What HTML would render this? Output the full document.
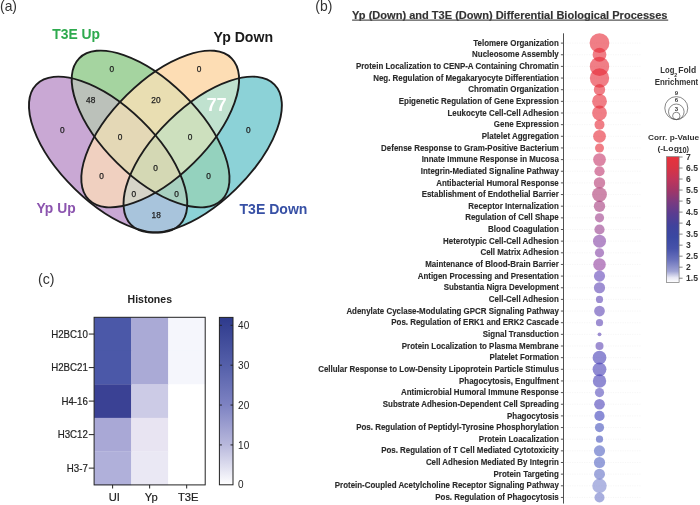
<!DOCTYPE html>
<html><head><meta charset="utf-8"><style>html,body{margin:0;padding:0;background:#fff;width:700px;height:505px;overflow:hidden}svg{display:block;will-change:transform}</style></head>
<body><svg width="700" height="505" viewBox="0 0 700 505"><defs><clipPath id="cP"><ellipse cx="108.10" cy="154.60" rx="100.30" ry="47.80" transform="rotate(44.3 108.10 154.60)" /></clipPath><clipPath id="cG"><ellipse cx="150.60" cy="129.00" rx="100.50" ry="47.70" transform="rotate(44.7 150.60 129.00)" /></clipPath><clipPath id="cO"><ellipse cx="160.20" cy="129.00" rx="100.50" ry="47.70" transform="rotate(-44.7 160.20 129.00)" /></clipPath><clipPath id="cT"><ellipse cx="202.70" cy="154.60" rx="100.30" ry="47.80" transform="rotate(-44.3 202.70 154.60)" /></clipPath></defs><ellipse cx="108.10" cy="154.60" rx="100.30" ry="47.80" transform="rotate(44.3 108.10 154.60)" fill="#c9a8d4"/><ellipse cx="150.60" cy="129.00" rx="100.50" ry="47.70" transform="rotate(44.7 150.60 129.00)" fill="#a5d4a0"/><ellipse cx="160.20" cy="129.00" rx="100.50" ry="47.70" transform="rotate(-44.7 160.20 129.00)" fill="#fdddb4"/><ellipse cx="202.70" cy="154.60" rx="100.30" ry="47.80" transform="rotate(-44.3 202.70 154.60)" fill="#8cd2d7"/><g clip-path="url(#cP)"><ellipse cx="150.60" cy="129.00" rx="100.50" ry="47.70" transform="rotate(44.7 150.60 129.00)" fill="#bbc1ba"/></g><g clip-path="url(#cP)"><ellipse cx="160.20" cy="129.00" rx="100.50" ry="47.70" transform="rotate(-44.7 160.20 129.00)" fill="#f0d0c0"/></g><g clip-path="url(#cP)"><ellipse cx="202.70" cy="154.60" rx="100.30" ry="47.80" transform="rotate(-44.3 202.70 154.60)" fill="#a8c4dc"/></g><g clip-path="url(#cG)"><ellipse cx="160.20" cy="129.00" rx="100.50" ry="47.70" transform="rotate(-44.7 160.20 129.00)" fill="#e9deb2"/></g><g clip-path="url(#cG)"><ellipse cx="202.70" cy="154.60" rx="100.30" ry="47.80" transform="rotate(-44.3 202.70 154.60)" fill="#94d2be"/></g><g clip-path="url(#cO)"><ellipse cx="202.70" cy="154.60" rx="100.30" ry="47.80" transform="rotate(-44.3 202.70 154.60)" fill="#c0e2cf"/></g><g clip-path="url(#cG)"><g clip-path="url(#cP)"><ellipse cx="160.20" cy="129.00" rx="100.50" ry="47.70" transform="rotate(-44.7 160.20 129.00)" fill="#e4d8b6"/></g></g><g clip-path="url(#cG)"><g clip-path="url(#cP)"><ellipse cx="202.70" cy="154.60" rx="100.30" ry="47.80" transform="rotate(-44.3 202.70 154.60)" fill="#a8d0c0"/></g></g><g clip-path="url(#cO)"><g clip-path="url(#cP)"><ellipse cx="202.70" cy="154.60" rx="100.30" ry="47.80" transform="rotate(-44.3 202.70 154.60)" fill="#d6d4c8"/></g></g><g clip-path="url(#cO)"><g clip-path="url(#cG)"><ellipse cx="202.70" cy="154.60" rx="100.30" ry="47.80" transform="rotate(-44.3 202.70 154.60)" fill="#cde0be"/></g></g><g clip-path="url(#cO)"><g clip-path="url(#cG)"><g clip-path="url(#cP)"><ellipse cx="202.70" cy="154.60" rx="100.30" ry="47.80" transform="rotate(-44.3 202.70 154.60)" fill="#d4d8b4"/></g></g></g><ellipse cx="108.10" cy="154.60" rx="100.30" ry="47.80" transform="rotate(44.3 108.10 154.60)" fill="none" stroke="#1c1c1c" stroke-width="1.9"/><ellipse cx="150.60" cy="129.00" rx="100.50" ry="47.70" transform="rotate(44.7 150.60 129.00)" fill="none" stroke="#1c1c1c" stroke-width="1.9"/><ellipse cx="160.20" cy="129.00" rx="100.50" ry="47.70" transform="rotate(-44.7 160.20 129.00)" fill="none" stroke="#1c1c1c" stroke-width="1.9"/><ellipse cx="202.70" cy="154.60" rx="100.30" ry="47.80" transform="rotate(-44.3 202.70 154.60)" fill="none" stroke="#1c1c1c" stroke-width="1.9"/><text x="111.90" y="72.10" font-family='"Liberation Sans", sans-serif' font-size="8.3" font-weight="normal" fill="#1e1e1e" text-anchor="middle" stroke="#1e1e1e" stroke-width="0.25">0</text><text x="199.00" y="72.30" font-family='"Liberation Sans", sans-serif' font-size="8.3" font-weight="normal" fill="#1e1e1e" text-anchor="middle" stroke="#1e1e1e" stroke-width="0.25">0</text><text x="62.40" y="133.20" font-family='"Liberation Sans", sans-serif' font-size="8.3" font-weight="normal" fill="#1e1e1e" text-anchor="middle" stroke="#1e1e1e" stroke-width="0.25">0</text><text x="248.40" y="132.90" font-family='"Liberation Sans", sans-serif' font-size="8.3" font-weight="normal" fill="#1e1e1e" text-anchor="middle" stroke="#1e1e1e" stroke-width="0.25">0</text><text x="90.70" y="103.00" font-family='"Liberation Sans", sans-serif' font-size="8.3" font-weight="normal" fill="#1e1e1e" text-anchor="middle" stroke="#1e1e1e" stroke-width="0.25">48</text><text x="155.90" y="103.00" font-family='"Liberation Sans", sans-serif' font-size="8.3" font-weight="normal" fill="#1e1e1e" text-anchor="middle" stroke="#1e1e1e" stroke-width="0.25">20</text><text x="120.00" y="139.70" font-family='"Liberation Sans", sans-serif' font-size="8.3" font-weight="normal" fill="#1e1e1e" text-anchor="middle" stroke="#1e1e1e" stroke-width="0.25">0</text><text x="190.00" y="139.70" font-family='"Liberation Sans", sans-serif' font-size="8.3" font-weight="normal" fill="#1e1e1e" text-anchor="middle" stroke="#1e1e1e" stroke-width="0.25">0</text><text x="101.50" y="179.00" font-family='"Liberation Sans", sans-serif' font-size="8.3" font-weight="normal" fill="#1e1e1e" text-anchor="middle" stroke="#1e1e1e" stroke-width="0.25">0</text><text x="208.60" y="179.30" font-family='"Liberation Sans", sans-serif' font-size="8.3" font-weight="normal" fill="#1e1e1e" text-anchor="middle" stroke="#1e1e1e" stroke-width="0.25">0</text><text x="155.60" y="170.80" font-family='"Liberation Sans", sans-serif' font-size="8.3" font-weight="normal" fill="#1e1e1e" text-anchor="middle" stroke="#1e1e1e" stroke-width="0.25">0</text><text x="133.90" y="197.40" font-family='"Liberation Sans", sans-serif' font-size="8.3" font-weight="normal" fill="#1e1e1e" text-anchor="middle" stroke="#1e1e1e" stroke-width="0.25">0</text><text x="176.50" y="197.40" font-family='"Liberation Sans", sans-serif' font-size="8.3" font-weight="normal" fill="#1e1e1e" text-anchor="middle" stroke="#1e1e1e" stroke-width="0.25">0</text><text x="156.20" y="217.70" font-family='"Liberation Sans", sans-serif' font-size="8.3" font-weight="normal" fill="#1e1e1e" text-anchor="middle" stroke="#1e1e1e" stroke-width="0.25">18</text><text x="216.60" y="111.20" font-family='"Liberation Sans", sans-serif' font-size="18.3" font-weight="bold" fill="#ffffff" text-anchor="middle" >77</text><text x="52.30" y="39.00" font-family='"Liberation Sans", sans-serif' font-size="14.3" font-weight="bold" fill="#2eaa4e" text-anchor="start" textLength="47.80" lengthAdjust="spacingAndGlyphs" >T3E Up</text><text x="213.50" y="41.60" font-family='"Liberation Sans", sans-serif' font-size="14.3" font-weight="bold" fill="#1a1a1a" text-anchor="start" textLength="59.60" lengthAdjust="spacingAndGlyphs" >Yp Down</text><text x="36.40" y="213.00" font-family='"Liberation Sans", sans-serif' font-size="14.3" font-weight="bold" fill="#8c55af" text-anchor="start" textLength="39.20" lengthAdjust="spacingAndGlyphs" >Yp Up</text><text x="239.50" y="213.50" font-family='"Liberation Sans", sans-serif' font-size="14.3" font-weight="bold" fill="#3750a5" text-anchor="start" textLength="67.90" lengthAdjust="spacingAndGlyphs" >T3E Down</text><text x="0.00" y="10.70" font-family='"Liberation Sans", sans-serif' font-size="14.5" font-weight="normal" fill="#333" text-anchor="start" textLength="17.00" lengthAdjust="spacingAndGlyphs" >(a)</text><text x="315.30" y="10.60" font-family='"Liberation Sans", sans-serif' font-size="14.5" font-weight="normal" fill="#333" text-anchor="start" textLength="17.00" lengthAdjust="spacingAndGlyphs" >(b)</text><text x="38.00" y="284.00" font-family='"Liberation Sans", sans-serif' font-size="14.0" font-weight="normal" fill="#333" text-anchor="start" textLength="16.50" lengthAdjust="spacingAndGlyphs" >(c)</text><rect x="94.10" y="317.30" width="37.33" height="33.82" fill="#4b58a8"/><rect x="131.13" y="317.30" width="37.33" height="33.82" fill="#aaaad6"/><rect x="168.17" y="317.30" width="37.33" height="33.82" fill="#f5f6fc"/><rect x="94.10" y="350.82" width="37.33" height="33.82" fill="#4b58a8"/><rect x="131.13" y="350.82" width="37.33" height="33.82" fill="#aaaad6"/><rect x="168.17" y="350.82" width="37.33" height="33.82" fill="#f5f6fc"/><rect x="94.10" y="384.34" width="37.33" height="33.82" fill="#3a4194"/><rect x="131.13" y="384.34" width="37.33" height="33.82" fill="#cccbe6"/><rect x="168.17" y="384.34" width="37.33" height="33.82" fill="#ffffff"/><rect x="94.10" y="417.86" width="37.33" height="33.82" fill="#a9a8d6"/><rect x="131.13" y="417.86" width="37.33" height="33.82" fill="#e8e4f2"/><rect x="168.17" y="417.86" width="37.33" height="33.82" fill="#ffffff"/><rect x="94.10" y="451.38" width="37.33" height="33.82" fill="#b0b0da"/><rect x="131.13" y="451.38" width="37.33" height="33.82" fill="#eae8f4"/><rect x="168.17" y="451.38" width="37.33" height="33.82" fill="#ffffff"/><rect x="94.10" y="317.30" width="111.10" height="167.60" fill="none" stroke="#222" stroke-width="1"/><line x1="88.80" y1="334.06" x2="94.10" y2="334.06" stroke="#222" stroke-width="1"/><text x="87.90" y="337.81" font-family='"Liberation Sans", sans-serif' font-size="10.7" font-weight="normal" fill="#222" text-anchor="end" textLength="36.68" lengthAdjust="spacingAndGlyphs" stroke="#222" stroke-width="0.2">H2BC10</text><line x1="88.80" y1="367.58" x2="94.10" y2="367.58" stroke="#222" stroke-width="1"/><text x="87.90" y="371.33" font-family='"Liberation Sans", sans-serif' font-size="10.7" font-weight="normal" fill="#222" text-anchor="end" textLength="36.68" lengthAdjust="spacingAndGlyphs" stroke="#222" stroke-width="0.2">H2BC21</text><line x1="88.80" y1="401.10" x2="94.10" y2="401.10" stroke="#222" stroke-width="1"/><text x="87.90" y="404.85" font-family='"Liberation Sans", sans-serif' font-size="10.7" font-weight="normal" fill="#222" text-anchor="end" textLength="26.43" lengthAdjust="spacingAndGlyphs" stroke="#222" stroke-width="0.2">H4-16</text><line x1="88.80" y1="434.62" x2="94.10" y2="434.62" stroke="#222" stroke-width="1"/><text x="87.90" y="438.37" font-family='"Liberation Sans", sans-serif' font-size="10.7" font-weight="normal" fill="#222" text-anchor="end" textLength="30.21" lengthAdjust="spacingAndGlyphs" stroke="#222" stroke-width="0.2">H3C12</text><line x1="88.80" y1="468.14" x2="94.10" y2="468.14" stroke="#222" stroke-width="1"/><text x="87.90" y="471.89" font-family='"Liberation Sans", sans-serif' font-size="10.7" font-weight="normal" fill="#222" text-anchor="end" textLength="21.04" lengthAdjust="spacingAndGlyphs" stroke="#222" stroke-width="0.2">H3-7</text><line x1="112.62" y1="484.90" x2="112.62" y2="488.50" stroke="#222" stroke-width="1"/><text x="114.22" y="500.90" font-family='"Liberation Sans", sans-serif' font-size="11.2" font-weight="normal" fill="#222" text-anchor="middle" stroke="#222" stroke-width="0.2">UI</text><line x1="149.65" y1="484.90" x2="149.65" y2="488.50" stroke="#222" stroke-width="1"/><text x="151.25" y="500.90" font-family='"Liberation Sans", sans-serif' font-size="11.2" font-weight="normal" fill="#222" text-anchor="middle" stroke="#222" stroke-width="0.2">Yp</text><line x1="186.68" y1="484.90" x2="186.68" y2="488.50" stroke="#222" stroke-width="1"/><text x="188.28" y="500.90" font-family='"Liberation Sans", sans-serif' font-size="11.2" font-weight="normal" fill="#222" text-anchor="middle" stroke="#222" stroke-width="0.2">T3E</text><text x="149.80" y="302.90" font-family='"Liberation Sans", sans-serif' font-size="10.6" font-weight="bold" fill="#222" text-anchor="middle" textLength="44.40" lengthAdjust="spacingAndGlyphs" >Histones</text><defs><linearGradient id="hg" x1="0" y1="1" x2="0" y2="0"><stop offset="0" stop-color="#ffffff"/><stop offset="0.24" stop-color="#b8b8dc"/><stop offset="0.48" stop-color="#7d82c2"/><stop offset="0.71" stop-color="#5560aa"/><stop offset="1" stop-color="#2e3a8c"/></linearGradient></defs><rect x="219.4" y="317.4" width="13.60" height="167.40" fill="url(#hg)" stroke="#222" stroke-width="1"/><text x="238.10" y="488.40" font-family='"Liberation Sans", sans-serif' font-size="10.0" font-weight="normal" fill="#222" text-anchor="start" >0</text><line x1="219.4" y1="444.93" x2="221.9" y2="444.93" stroke="#222" stroke-width="1"/><line x1="230.5" y1="444.93" x2="233.0" y2="444.93" stroke="#222" stroke-width="1"/><text x="238.10" y="448.53" font-family='"Liberation Sans", sans-serif' font-size="10.0" font-weight="normal" fill="#222" text-anchor="start" >10</text><line x1="219.4" y1="405.05" x2="221.9" y2="405.05" stroke="#222" stroke-width="1"/><line x1="230.5" y1="405.05" x2="233.0" y2="405.05" stroke="#222" stroke-width="1"/><text x="238.10" y="408.65" font-family='"Liberation Sans", sans-serif' font-size="10.0" font-weight="normal" fill="#222" text-anchor="start" >20</text><line x1="219.4" y1="365.18" x2="221.9" y2="365.18" stroke="#222" stroke-width="1"/><line x1="230.5" y1="365.18" x2="233.0" y2="365.18" stroke="#222" stroke-width="1"/><text x="238.10" y="368.78" font-family='"Liberation Sans", sans-serif' font-size="10.0" font-weight="normal" fill="#222" text-anchor="start" >30</text><line x1="219.4" y1="325.30" x2="221.9" y2="325.30" stroke="#222" stroke-width="1"/><line x1="230.5" y1="325.30" x2="233.0" y2="325.30" stroke="#222" stroke-width="1"/><text x="238.10" y="328.90" font-family='"Liberation Sans", sans-serif' font-size="10.0" font-weight="normal" fill="#222" text-anchor="start" >40</text><line x1="564.90" y1="43.10" x2="640.7" y2="43.10" stroke="#f0f0f0" stroke-width="0.6" stroke-dasharray="1.2 1.2"/><line x1="564.90" y1="54.75" x2="640.7" y2="54.75" stroke="#f0f0f0" stroke-width="0.6" stroke-dasharray="1.2 1.2"/><line x1="564.90" y1="66.40" x2="640.7" y2="66.40" stroke="#f0f0f0" stroke-width="0.6" stroke-dasharray="1.2 1.2"/><line x1="564.90" y1="78.05" x2="640.7" y2="78.05" stroke="#f0f0f0" stroke-width="0.6" stroke-dasharray="1.2 1.2"/><line x1="564.90" y1="89.70" x2="640.7" y2="89.70" stroke="#f0f0f0" stroke-width="0.6" stroke-dasharray="1.2 1.2"/><line x1="564.90" y1="101.35" x2="640.7" y2="101.35" stroke="#f0f0f0" stroke-width="0.6" stroke-dasharray="1.2 1.2"/><line x1="564.90" y1="113.00" x2="640.7" y2="113.00" stroke="#f0f0f0" stroke-width="0.6" stroke-dasharray="1.2 1.2"/><line x1="564.90" y1="124.65" x2="640.7" y2="124.65" stroke="#f0f0f0" stroke-width="0.6" stroke-dasharray="1.2 1.2"/><line x1="564.90" y1="136.30" x2="640.7" y2="136.30" stroke="#f0f0f0" stroke-width="0.6" stroke-dasharray="1.2 1.2"/><line x1="564.90" y1="147.95" x2="640.7" y2="147.95" stroke="#f0f0f0" stroke-width="0.6" stroke-dasharray="1.2 1.2"/><line x1="564.90" y1="159.60" x2="640.7" y2="159.60" stroke="#f0f0f0" stroke-width="0.6" stroke-dasharray="1.2 1.2"/><line x1="564.90" y1="171.25" x2="640.7" y2="171.25" stroke="#f0f0f0" stroke-width="0.6" stroke-dasharray="1.2 1.2"/><line x1="564.90" y1="182.90" x2="640.7" y2="182.90" stroke="#f0f0f0" stroke-width="0.6" stroke-dasharray="1.2 1.2"/><line x1="564.90" y1="194.55" x2="640.7" y2="194.55" stroke="#f0f0f0" stroke-width="0.6" stroke-dasharray="1.2 1.2"/><line x1="564.90" y1="206.20" x2="640.7" y2="206.20" stroke="#f0f0f0" stroke-width="0.6" stroke-dasharray="1.2 1.2"/><line x1="564.90" y1="217.85" x2="640.7" y2="217.85" stroke="#f0f0f0" stroke-width="0.6" stroke-dasharray="1.2 1.2"/><line x1="564.90" y1="229.50" x2="640.7" y2="229.50" stroke="#f0f0f0" stroke-width="0.6" stroke-dasharray="1.2 1.2"/><line x1="564.90" y1="241.15" x2="640.7" y2="241.15" stroke="#f0f0f0" stroke-width="0.6" stroke-dasharray="1.2 1.2"/><line x1="564.90" y1="252.80" x2="640.7" y2="252.80" stroke="#f0f0f0" stroke-width="0.6" stroke-dasharray="1.2 1.2"/><line x1="564.90" y1="264.45" x2="640.7" y2="264.45" stroke="#f0f0f0" stroke-width="0.6" stroke-dasharray="1.2 1.2"/><line x1="564.90" y1="276.10" x2="640.7" y2="276.10" stroke="#f0f0f0" stroke-width="0.6" stroke-dasharray="1.2 1.2"/><line x1="564.90" y1="287.75" x2="640.7" y2="287.75" stroke="#f0f0f0" stroke-width="0.6" stroke-dasharray="1.2 1.2"/><line x1="564.90" y1="299.40" x2="640.7" y2="299.40" stroke="#f0f0f0" stroke-width="0.6" stroke-dasharray="1.2 1.2"/><line x1="564.90" y1="311.05" x2="640.7" y2="311.05" stroke="#f0f0f0" stroke-width="0.6" stroke-dasharray="1.2 1.2"/><line x1="564.90" y1="322.70" x2="640.7" y2="322.70" stroke="#f0f0f0" stroke-width="0.6" stroke-dasharray="1.2 1.2"/><line x1="564.90" y1="334.35" x2="640.7" y2="334.35" stroke="#f0f0f0" stroke-width="0.6" stroke-dasharray="1.2 1.2"/><line x1="564.90" y1="346.00" x2="640.7" y2="346.00" stroke="#f0f0f0" stroke-width="0.6" stroke-dasharray="1.2 1.2"/><line x1="564.90" y1="357.65" x2="640.7" y2="357.65" stroke="#f0f0f0" stroke-width="0.6" stroke-dasharray="1.2 1.2"/><line x1="564.90" y1="369.30" x2="640.7" y2="369.30" stroke="#f0f0f0" stroke-width="0.6" stroke-dasharray="1.2 1.2"/><line x1="564.90" y1="380.95" x2="640.7" y2="380.95" stroke="#f0f0f0" stroke-width="0.6" stroke-dasharray="1.2 1.2"/><line x1="564.90" y1="392.60" x2="640.7" y2="392.60" stroke="#f0f0f0" stroke-width="0.6" stroke-dasharray="1.2 1.2"/><line x1="564.90" y1="404.25" x2="640.7" y2="404.25" stroke="#f0f0f0" stroke-width="0.6" stroke-dasharray="1.2 1.2"/><line x1="564.90" y1="415.90" x2="640.7" y2="415.90" stroke="#f0f0f0" stroke-width="0.6" stroke-dasharray="1.2 1.2"/><line x1="564.90" y1="427.55" x2="640.7" y2="427.55" stroke="#f0f0f0" stroke-width="0.6" stroke-dasharray="1.2 1.2"/><line x1="564.90" y1="439.20" x2="640.7" y2="439.20" stroke="#f0f0f0" stroke-width="0.6" stroke-dasharray="1.2 1.2"/><line x1="564.90" y1="450.85" x2="640.7" y2="450.85" stroke="#f0f0f0" stroke-width="0.6" stroke-dasharray="1.2 1.2"/><line x1="564.90" y1="462.50" x2="640.7" y2="462.50" stroke="#f0f0f0" stroke-width="0.6" stroke-dasharray="1.2 1.2"/><line x1="564.90" y1="474.15" x2="640.7" y2="474.15" stroke="#f0f0f0" stroke-width="0.6" stroke-dasharray="1.2 1.2"/><line x1="564.90" y1="485.80" x2="640.7" y2="485.80" stroke="#f0f0f0" stroke-width="0.6" stroke-dasharray="1.2 1.2"/><line x1="564.90" y1="497.45" x2="640.7" y2="497.45" stroke="#f0f0f0" stroke-width="0.6" stroke-dasharray="1.2 1.2"/><line x1="563.5" y1="33.3" x2="563.5" y2="503.6" stroke="#505050" stroke-width="1"/><line x1="560.9" y1="43.10" x2="563.90" y2="43.10" stroke="#555" stroke-width="1"/><text x="558.80" y="45.70" font-family='"Liberation Sans", sans-serif' font-size="9.9" font-weight="bold" fill="#2a2a2a" text-anchor="end" textLength="85.54" lengthAdjust="spacingAndGlyphs" stroke="#2a2a2a" stroke-width="0.15">Telomere Organization</text><line x1="560.9" y1="54.75" x2="563.90" y2="54.75" stroke="#555" stroke-width="1"/><text x="558.80" y="57.35" font-family='"Liberation Sans", sans-serif' font-size="9.9" font-weight="bold" fill="#2a2a2a" text-anchor="end" textLength="86.73" lengthAdjust="spacingAndGlyphs" stroke="#2a2a2a" stroke-width="0.15">Nucleosome Assembly</text><line x1="560.9" y1="66.40" x2="563.90" y2="66.40" stroke="#555" stroke-width="1"/><text x="558.80" y="69.00" font-family='"Liberation Sans", sans-serif' font-size="9.9" font-weight="bold" fill="#2a2a2a" text-anchor="end" textLength="202.85" lengthAdjust="spacingAndGlyphs" stroke="#2a2a2a" stroke-width="0.15">Protein Localization to CENP-A Containing Chromatin</text><line x1="560.9" y1="78.05" x2="563.90" y2="78.05" stroke="#555" stroke-width="1"/><text x="558.80" y="80.65" font-family='"Liberation Sans", sans-serif' font-size="9.9" font-weight="bold" fill="#2a2a2a" text-anchor="end" textLength="185.58" lengthAdjust="spacingAndGlyphs" stroke="#2a2a2a" stroke-width="0.15">Neg. Regulation of Megakaryocyte Differentiation</text><line x1="560.9" y1="89.70" x2="563.90" y2="89.70" stroke="#555" stroke-width="1"/><text x="558.80" y="92.30" font-family='"Liberation Sans", sans-serif' font-size="9.9" font-weight="bold" fill="#2a2a2a" text-anchor="end" textLength="90.51" lengthAdjust="spacingAndGlyphs" stroke="#2a2a2a" stroke-width="0.15">Chromatin Organization</text><line x1="560.9" y1="101.35" x2="563.90" y2="101.35" stroke="#555" stroke-width="1"/><text x="558.80" y="103.95" font-family='"Liberation Sans", sans-serif' font-size="9.9" font-weight="bold" fill="#2a2a2a" text-anchor="end" textLength="160.06" lengthAdjust="spacingAndGlyphs" stroke="#2a2a2a" stroke-width="0.15">Epigenetic Regulation of Gene Expression</text><line x1="560.9" y1="113.00" x2="563.90" y2="113.00" stroke="#555" stroke-width="1"/><text x="558.80" y="115.60" font-family='"Liberation Sans", sans-serif' font-size="9.9" font-weight="bold" fill="#2a2a2a" text-anchor="end" textLength="111.35" lengthAdjust="spacingAndGlyphs" stroke="#2a2a2a" stroke-width="0.15">Leukocyte Cell-Cell Adhesion</text><line x1="560.9" y1="124.65" x2="563.90" y2="124.65" stroke="#555" stroke-width="1"/><text x="558.80" y="127.25" font-family='"Liberation Sans", sans-serif' font-size="9.9" font-weight="bold" fill="#2a2a2a" text-anchor="end" textLength="65.01" lengthAdjust="spacingAndGlyphs" stroke="#2a2a2a" stroke-width="0.15">Gene Expression</text><line x1="560.9" y1="136.30" x2="563.90" y2="136.30" stroke="#555" stroke-width="1"/><text x="558.80" y="138.90" font-family='"Liberation Sans", sans-serif' font-size="9.9" font-weight="bold" fill="#2a2a2a" text-anchor="end" textLength="77.03" lengthAdjust="spacingAndGlyphs" stroke="#2a2a2a" stroke-width="0.15">Platelet Aggregation</text><line x1="560.9" y1="147.95" x2="563.90" y2="147.95" stroke="#555" stroke-width="1"/><text x="558.80" y="150.55" font-family='"Liberation Sans", sans-serif' font-size="9.9" font-weight="bold" fill="#2a2a2a" text-anchor="end" textLength="177.68" lengthAdjust="spacingAndGlyphs" stroke="#2a2a2a" stroke-width="0.15">Defense Response to Gram-Positive Bacterium</text><line x1="560.9" y1="159.60" x2="563.90" y2="159.60" stroke="#555" stroke-width="1"/><text x="558.80" y="162.20" font-family='"Liberation Sans", sans-serif' font-size="9.9" font-weight="bold" fill="#2a2a2a" text-anchor="end" textLength="137.17" lengthAdjust="spacingAndGlyphs" stroke="#2a2a2a" stroke-width="0.15">Innate Immune Response in Mucosa</text><line x1="560.9" y1="171.25" x2="563.90" y2="171.25" stroke="#555" stroke-width="1"/><text x="558.80" y="173.85" font-family='"Liberation Sans", sans-serif' font-size="9.9" font-weight="bold" fill="#2a2a2a" text-anchor="end" textLength="138.05" lengthAdjust="spacingAndGlyphs" stroke="#2a2a2a" stroke-width="0.15">Integrin-Mediated Signaline Pathway</text><line x1="560.9" y1="182.90" x2="563.90" y2="182.90" stroke="#555" stroke-width="1"/><text x="558.80" y="185.50" font-family='"Liberation Sans", sans-serif' font-size="9.9" font-weight="bold" fill="#2a2a2a" text-anchor="end" textLength="122.65" lengthAdjust="spacingAndGlyphs" stroke="#2a2a2a" stroke-width="0.15">Antibacterial Humoral Response</text><line x1="560.9" y1="194.55" x2="563.90" y2="194.55" stroke="#555" stroke-width="1"/><text x="558.80" y="197.15" font-family='"Liberation Sans", sans-serif' font-size="9.9" font-weight="bold" fill="#2a2a2a" text-anchor="end" textLength="137.17" lengthAdjust="spacingAndGlyphs" stroke="#2a2a2a" stroke-width="0.15">Establishment of Endothelial Barrier</text><line x1="560.9" y1="206.20" x2="563.90" y2="206.20" stroke="#555" stroke-width="1"/><text x="558.80" y="208.80" font-family='"Liberation Sans", sans-serif' font-size="9.9" font-weight="bold" fill="#2a2a2a" text-anchor="end" textLength="90.51" lengthAdjust="spacingAndGlyphs" stroke="#2a2a2a" stroke-width="0.15">Receptor Internalization</text><line x1="560.9" y1="217.85" x2="563.90" y2="217.85" stroke="#555" stroke-width="1"/><text x="558.80" y="220.45" font-family='"Liberation Sans", sans-serif' font-size="9.9" font-weight="bold" fill="#2a2a2a" text-anchor="end" textLength="93.60" lengthAdjust="spacingAndGlyphs" stroke="#2a2a2a" stroke-width="0.15">Regulation of Cell Shape</text><line x1="560.9" y1="229.50" x2="563.90" y2="229.50" stroke="#555" stroke-width="1"/><text x="558.80" y="232.10" font-family='"Liberation Sans", sans-serif' font-size="9.9" font-weight="bold" fill="#2a2a2a" text-anchor="end" textLength="70.70" lengthAdjust="spacingAndGlyphs" stroke="#2a2a2a" stroke-width="0.15">Blood Coagulation</text><line x1="560.9" y1="241.15" x2="563.90" y2="241.15" stroke="#555" stroke-width="1"/><text x="558.80" y="243.75" font-family='"Liberation Sans", sans-serif' font-size="9.9" font-weight="bold" fill="#2a2a2a" text-anchor="end" textLength="115.76" lengthAdjust="spacingAndGlyphs" stroke="#2a2a2a" stroke-width="0.15">Heterotypic Cell-Cell Adhesion</text><line x1="560.9" y1="252.80" x2="563.90" y2="252.80" stroke="#555" stroke-width="1"/><text x="558.80" y="255.40" font-family='"Liberation Sans", sans-serif' font-size="9.9" font-weight="bold" fill="#2a2a2a" text-anchor="end" textLength="78.35" lengthAdjust="spacingAndGlyphs" stroke="#2a2a2a" stroke-width="0.15">Cell Matrix Adhesion</text><line x1="560.9" y1="264.45" x2="563.90" y2="264.45" stroke="#555" stroke-width="1"/><text x="558.80" y="267.05" font-family='"Liberation Sans", sans-serif' font-size="9.9" font-weight="bold" fill="#2a2a2a" text-anchor="end" textLength="133.64" lengthAdjust="spacingAndGlyphs" stroke="#2a2a2a" stroke-width="0.15">Maintenance of Blood-Brain Barrier</text><line x1="560.9" y1="276.10" x2="563.90" y2="276.10" stroke="#555" stroke-width="1"/><text x="558.80" y="278.70" font-family='"Liberation Sans", sans-serif' font-size="9.9" font-weight="bold" fill="#2a2a2a" text-anchor="end" textLength="141.13" lengthAdjust="spacingAndGlyphs" stroke="#2a2a2a" stroke-width="0.15">Antigen Processing and Presentation</text><line x1="560.9" y1="287.75" x2="563.90" y2="287.75" stroke="#555" stroke-width="1"/><text x="558.80" y="290.35" font-family='"Liberation Sans", sans-serif' font-size="9.9" font-weight="bold" fill="#2a2a2a" text-anchor="end" textLength="115.16" lengthAdjust="spacingAndGlyphs" stroke="#2a2a2a" stroke-width="0.15">Substantia Nigra Development</text><line x1="560.9" y1="299.40" x2="563.90" y2="299.40" stroke="#555" stroke-width="1"/><text x="558.80" y="302.00" font-family='"Liberation Sans", sans-serif' font-size="9.9" font-weight="bold" fill="#2a2a2a" text-anchor="end" textLength="69.98" lengthAdjust="spacingAndGlyphs" stroke="#2a2a2a" stroke-width="0.15">Cell-Cell Adhesion</text><line x1="560.9" y1="311.05" x2="563.90" y2="311.05" stroke="#555" stroke-width="1"/><text x="558.80" y="313.65" font-family='"Liberation Sans", sans-serif' font-size="9.9" font-weight="bold" fill="#2a2a2a" text-anchor="end" textLength="212.42" lengthAdjust="spacingAndGlyphs" stroke="#2a2a2a" stroke-width="0.15">Adenylate Cyclase-Modulating GPCR Signaling Pathway</text><line x1="560.9" y1="322.70" x2="563.90" y2="322.70" stroke="#555" stroke-width="1"/><text x="558.80" y="325.30" font-family='"Liberation Sans", sans-serif' font-size="9.9" font-weight="bold" fill="#2a2a2a" text-anchor="end" textLength="167.55" lengthAdjust="spacingAndGlyphs" stroke="#2a2a2a" stroke-width="0.15">Pos. Regulation of ERK1 and ERK2 Cascade</text><line x1="560.9" y1="334.35" x2="563.90" y2="334.35" stroke="#555" stroke-width="1"/><text x="558.80" y="336.95" font-family='"Liberation Sans", sans-serif' font-size="9.9" font-weight="bold" fill="#2a2a2a" text-anchor="end" textLength="76.00" lengthAdjust="spacingAndGlyphs" stroke="#2a2a2a" stroke-width="0.15">Signal Transduction</text><line x1="560.9" y1="346.00" x2="563.90" y2="346.00" stroke="#555" stroke-width="1"/><text x="558.80" y="348.60" font-family='"Liberation Sans", sans-serif' font-size="9.9" font-weight="bold" fill="#2a2a2a" text-anchor="end" textLength="156.98" lengthAdjust="spacingAndGlyphs" stroke="#2a2a2a" stroke-width="0.15">Protein Localization to Plasma Membrane</text><line x1="560.9" y1="357.65" x2="563.90" y2="357.65" stroke="#555" stroke-width="1"/><text x="558.80" y="360.25" font-family='"Liberation Sans", sans-serif' font-size="9.9" font-weight="bold" fill="#2a2a2a" text-anchor="end" textLength="69.40" lengthAdjust="spacingAndGlyphs" stroke="#2a2a2a" stroke-width="0.15">Platelet Formation</text><line x1="560.9" y1="369.30" x2="563.90" y2="369.30" stroke="#555" stroke-width="1"/><text x="558.80" y="371.90" font-family='"Liberation Sans", sans-serif' font-size="9.9" font-weight="bold" fill="#2a2a2a" text-anchor="end" textLength="240.59" lengthAdjust="spacingAndGlyphs" stroke="#2a2a2a" stroke-width="0.15">Cellular Response to Low-Density Lipoprotein Particle Stimulus</text><line x1="560.9" y1="380.95" x2="563.90" y2="380.95" stroke="#555" stroke-width="1"/><text x="558.80" y="383.55" font-family='"Liberation Sans", sans-serif' font-size="9.9" font-weight="bold" fill="#2a2a2a" text-anchor="end" textLength="99.76" lengthAdjust="spacingAndGlyphs" stroke="#2a2a2a" stroke-width="0.15">Phagocytosis, Engulfment</text><line x1="560.9" y1="392.60" x2="563.90" y2="392.60" stroke="#555" stroke-width="1"/><text x="558.80" y="395.20" font-family='"Liberation Sans", sans-serif' font-size="9.9" font-weight="bold" fill="#2a2a2a" text-anchor="end" textLength="157.86" lengthAdjust="spacingAndGlyphs" stroke="#2a2a2a" stroke-width="0.15">Antimicrobial Humoral Immune Response</text><line x1="560.9" y1="404.25" x2="563.90" y2="404.25" stroke="#555" stroke-width="1"/><text x="558.80" y="406.85" font-family='"Liberation Sans", sans-serif' font-size="9.9" font-weight="bold" fill="#2a2a2a" text-anchor="end" textLength="176.04" lengthAdjust="spacingAndGlyphs" stroke="#2a2a2a" stroke-width="0.15">Substrate Adhesion-Dependent Cell Spreading</text><line x1="560.9" y1="415.90" x2="563.90" y2="415.90" stroke="#555" stroke-width="1"/><text x="558.80" y="418.50" font-family='"Liberation Sans", sans-serif' font-size="9.9" font-weight="bold" fill="#2a2a2a" text-anchor="end" textLength="51.80" lengthAdjust="spacingAndGlyphs" stroke="#2a2a2a" stroke-width="0.15">Phagocytosis</text><line x1="560.9" y1="427.55" x2="563.90" y2="427.55" stroke="#555" stroke-width="1"/><text x="558.80" y="430.15" font-family='"Liberation Sans", sans-serif' font-size="9.9" font-weight="bold" fill="#2a2a2a" text-anchor="end" textLength="202.57" lengthAdjust="spacingAndGlyphs" stroke="#2a2a2a" stroke-width="0.15">Pos. Regulation of Peptidyl-Tyrosine Phosphorylation</text><line x1="560.9" y1="439.20" x2="563.90" y2="439.20" stroke="#555" stroke-width="1"/><text x="558.80" y="441.80" font-family='"Liberation Sans", sans-serif' font-size="9.9" font-weight="bold" fill="#2a2a2a" text-anchor="end" textLength="79.96" lengthAdjust="spacingAndGlyphs" stroke="#2a2a2a" stroke-width="0.15">Protein Loacalization</text><line x1="560.9" y1="450.85" x2="563.90" y2="450.85" stroke="#555" stroke-width="1"/><text x="558.80" y="453.45" font-family='"Liberation Sans", sans-serif' font-size="9.9" font-weight="bold" fill="#2a2a2a" text-anchor="end" textLength="177.65" lengthAdjust="spacingAndGlyphs" stroke="#2a2a2a" stroke-width="0.15">Pos. Regulation of T Cell Mediated Cytotoxicity</text><line x1="560.9" y1="462.50" x2="563.90" y2="462.50" stroke="#555" stroke-width="1"/><text x="558.80" y="465.10" font-family='"Liberation Sans", sans-serif' font-size="9.9" font-weight="bold" fill="#2a2a2a" text-anchor="end" textLength="132.91" lengthAdjust="spacingAndGlyphs" stroke="#2a2a2a" stroke-width="0.15">Cell Adhesion Mediated By Integrin</text><line x1="560.9" y1="474.15" x2="563.90" y2="474.15" stroke="#555" stroke-width="1"/><text x="558.80" y="476.75" font-family='"Liberation Sans", sans-serif' font-size="9.9" font-weight="bold" fill="#2a2a2a" text-anchor="end" textLength="65.28" lengthAdjust="spacingAndGlyphs" stroke="#2a2a2a" stroke-width="0.15">Protein Targeting</text><line x1="560.9" y1="485.80" x2="563.90" y2="485.80" stroke="#555" stroke-width="1"/><text x="558.80" y="488.40" font-family='"Liberation Sans", sans-serif' font-size="9.9" font-weight="bold" fill="#2a2a2a" text-anchor="end" textLength="224.00" lengthAdjust="spacingAndGlyphs" stroke="#2a2a2a" stroke-width="0.15">Protein-Coupled Acetylcholine Receptor Signaling Pathway</text><line x1="560.9" y1="497.45" x2="563.90" y2="497.45" stroke="#555" stroke-width="1"/><text x="558.80" y="500.05" font-family='"Liberation Sans", sans-serif' font-size="9.9" font-weight="bold" fill="#2a2a2a" text-anchor="end" textLength="123.52" lengthAdjust="spacingAndGlyphs" stroke="#2a2a2a" stroke-width="0.15">Pos. Regulation of Phagocytosis</text><circle cx="599.5" cy="43.10" r="9.9" fill="#e62835" fill-opacity="0.6"/><circle cx="599.5" cy="54.75" r="6.9" fill="#e62835" fill-opacity="0.6"/><circle cx="599.5" cy="66.40" r="9.7" fill="#e62835" fill-opacity="0.6"/><circle cx="599.5" cy="78.05" r="9.7" fill="#e62835" fill-opacity="0.6"/><circle cx="599.5" cy="89.70" r="5.7" fill="#e62835" fill-opacity="0.6"/><circle cx="599.5" cy="101.35" r="7.4" fill="#e62835" fill-opacity="0.6"/><circle cx="599.5" cy="113.00" r="7.4" fill="#e62835" fill-opacity="0.6"/><circle cx="599.5" cy="124.65" r="5.0" fill="#e62835" fill-opacity="0.6"/><circle cx="599.5" cy="136.30" r="6.4" fill="#e62835" fill-opacity="0.6"/><circle cx="599.5" cy="147.95" r="4.5" fill="#e62835" fill-opacity="0.6"/><circle cx="599.5" cy="159.60" r="6.4" fill="#c53569" fill-opacity="0.6"/><circle cx="599.5" cy="171.25" r="5.1" fill="#be356e" fill-opacity="0.6"/><circle cx="599.5" cy="182.90" r="5.7" fill="#b43771" fill-opacity="0.6"/><circle cx="599.5" cy="194.55" r="7.4" fill="#ac3771" fill-opacity="0.6"/><circle cx="599.5" cy="206.20" r="5.7" fill="#a3397b" fill-opacity="0.6"/><circle cx="599.5" cy="217.85" r="4.6" fill="#9d3c89" fill-opacity="0.6"/><circle cx="599.5" cy="229.50" r="5.1" fill="#963c8c" fill-opacity="0.6"/><circle cx="599.5" cy="241.15" r="6.5" fill="#823fa3" fill-opacity="0.6"/><circle cx="599.5" cy="252.80" r="4.6" fill="#823fa3" fill-opacity="0.6"/><circle cx="599.5" cy="264.45" r="6.3" fill="#8f3c9d" fill-opacity="0.6"/><circle cx="599.5" cy="276.10" r="5.6" fill="#6143b7" fill-opacity="0.6"/><circle cx="599.5" cy="287.75" r="5.6" fill="#5d44b4" fill-opacity="0.6"/><circle cx="599.5" cy="299.40" r="3.6" fill="#5d44b4" fill-opacity="0.6"/><circle cx="599.5" cy="311.05" r="5.35" fill="#5d44b4" fill-opacity="0.6"/><circle cx="599.5" cy="322.70" r="3.6" fill="#5d44b4" fill-opacity="0.6"/><circle cx="599.5" cy="334.35" r="1.9" fill="#5d44b4" fill-opacity="0.6"/><circle cx="599.5" cy="346.00" r="4.0" fill="#5d44b4" fill-opacity="0.6"/><circle cx="599.5" cy="357.65" r="6.9" fill="#463eb6" fill-opacity="0.6"/><circle cx="599.5" cy="369.30" r="6.9" fill="#463eb6" fill-opacity="0.6"/><circle cx="599.5" cy="380.95" r="6.7" fill="#463eb6" fill-opacity="0.6"/><circle cx="599.5" cy="392.60" r="4.6" fill="#574dbb" fill-opacity="0.6"/><circle cx="599.5" cy="404.25" r="5.35" fill="#493fb7" fill-opacity="0.6"/><circle cx="599.5" cy="415.90" r="5.1" fill="#3c3fbb" fill-opacity="0.6"/><circle cx="599.5" cy="427.55" r="4.6" fill="#4350bb" fill-opacity="0.6"/><circle cx="599.5" cy="439.20" r="3.6" fill="#4350bb" fill-opacity="0.6"/><circle cx="599.5" cy="450.85" r="5.6" fill="#5061c1" fill-opacity="0.6"/><circle cx="599.5" cy="462.50" r="5.6" fill="#5061c1" fill-opacity="0.6"/><circle cx="599.5" cy="474.15" r="5.5" fill="#616ec5" fill-opacity="0.6"/><circle cx="599.5" cy="485.80" r="7.2" fill="#7b85cf" fill-opacity="0.6"/><circle cx="599.5" cy="497.45" r="5.0" fill="#6e78c8" fill-opacity="0.6"/><text x="352.10" y="19.00" font-family='"Liberation Sans", sans-serif' font-size="10.4" font-weight="bold" fill="#333" text-anchor="start" textLength="315.40" lengthAdjust="spacingAndGlyphs" stroke="#333" stroke-width="0.15">Yp (Down) and T3E (Down) Differential Biological Processes</text><line x1="352.1" y1="20.1" x2="668.2" y2="20.1" stroke="#555" stroke-width="1.1"/><text x="660.30" y="73.10" font-family='"Liberation Sans", sans-serif' font-size="9.0" font-weight="bold" fill="#333" text-anchor="start" textLength="14.00" lengthAdjust="spacingAndGlyphs" >Log</text><text x="674.30" y="76.60" font-family='"Liberation Sans", sans-serif' font-size="5.2" font-weight="bold" fill="#333" text-anchor="start" >2</text><text x="678.20" y="73.10" font-family='"Liberation Sans", sans-serif' font-size="9.0" font-weight="bold" fill="#333" text-anchor="start" textLength="18.00" lengthAdjust="spacingAndGlyphs" >Fold</text><text x="654.70" y="84.60" font-family='"Liberation Sans", sans-serif' font-size="9.0" font-weight="bold" fill="#333" text-anchor="start" textLength="43.40" lengthAdjust="spacingAndGlyphs" >Enrichment</text><circle cx="676.3" cy="108.10" r="11.5" fill="none" stroke="#555" stroke-width="0.7"/><text x="676.30" y="94.50" font-family='"Liberation Sans", sans-serif' font-size="6.0" font-weight="bold" fill="#333" text-anchor="middle" >9</text><circle cx="676.3" cy="111.80" r="7.8" fill="none" stroke="#555" stroke-width="0.7"/><text x="676.30" y="102.30" font-family='"Liberation Sans", sans-serif' font-size="6.0" font-weight="bold" fill="#333" text-anchor="middle" >6</text><circle cx="676.3" cy="115.90" r="3.7" fill="none" stroke="#555" stroke-width="0.7"/><text x="676.30" y="110.50" font-family='"Liberation Sans", sans-serif' font-size="6.0" font-weight="bold" fill="#333" text-anchor="middle" >3</text><text x="673.60" y="140.40" font-family='"Liberation Sans", sans-serif' font-size="7.4" font-weight="bold" fill="#333" text-anchor="middle" textLength="51.00" lengthAdjust="spacingAndGlyphs" >Corr. p-Value</text><text x="657.40" y="150.70" font-family='"Liberation Sans", sans-serif' font-size="7.4" font-weight="bold" fill="#333" text-anchor="start" textLength="21.50" lengthAdjust="spacingAndGlyphs" >(-Log</text><text x="678.40" y="152.60" font-family='"Liberation Sans", sans-serif' font-size="9.0" font-weight="bold" fill="#333" text-anchor="start" textLength="8.20" lengthAdjust="spacingAndGlyphs" >10</text><text x="686.60" y="150.70" font-family='"Liberation Sans", sans-serif' font-size="7.4" font-weight="bold" fill="#333" text-anchor="start" >)</text><defs><linearGradient id="pg" x1="0" y1="1" x2="0" y2="0"><stop offset="0" stop-color="#ffffff"/><stop offset="0.04" stop-color="#e8e8f4"/><stop offset="0.09" stop-color="#a0a4d4"/><stop offset="0.18" stop-color="#6a72bc"/><stop offset="0.27" stop-color="#4652aa"/><stop offset="0.36" stop-color="#3a48a2"/><stop offset="0.45" stop-color="#40429c"/><stop offset="0.55" stop-color="#5a3c90"/><stop offset="0.64" stop-color="#7a3a80"/><stop offset="0.73" stop-color="#a03668"/><stop offset="0.82" stop-color="#c0355a"/><stop offset="0.91" stop-color="#d83444"/><stop offset="1" stop-color="#e8323c"/></linearGradient></defs><rect x="666.6" y="156.7" width="12.5" height="125.9" fill="url(#pg)" stroke="#777" stroke-width="0.7"/><line x1="679.1" y1="157.00" x2="682.6" y2="157.00" stroke="#666" stroke-width="0.8"/><text x="686.00" y="160.20" font-family='"Liberation Sans", sans-serif' font-size="8.6" font-weight="bold" fill="#333" text-anchor="start" >7</text><line x1="679.1" y1="168.02" x2="682.6" y2="168.02" stroke="#666" stroke-width="0.8"/><text x="686.00" y="171.22" font-family='"Liberation Sans", sans-serif' font-size="8.6" font-weight="bold" fill="#333" text-anchor="start" >6.5</text><line x1="679.1" y1="179.04" x2="682.6" y2="179.04" stroke="#666" stroke-width="0.8"/><text x="686.00" y="182.24" font-family='"Liberation Sans", sans-serif' font-size="8.6" font-weight="bold" fill="#333" text-anchor="start" >6</text><line x1="679.1" y1="190.06" x2="682.6" y2="190.06" stroke="#666" stroke-width="0.8"/><text x="686.00" y="193.26" font-family='"Liberation Sans", sans-serif' font-size="8.6" font-weight="bold" fill="#333" text-anchor="start" >5.5</text><line x1="679.1" y1="201.08" x2="682.6" y2="201.08" stroke="#666" stroke-width="0.8"/><text x="686.00" y="204.28" font-family='"Liberation Sans", sans-serif' font-size="8.6" font-weight="bold" fill="#333" text-anchor="start" >5</text><line x1="679.1" y1="212.10" x2="682.6" y2="212.10" stroke="#666" stroke-width="0.8"/><text x="686.00" y="215.30" font-family='"Liberation Sans", sans-serif' font-size="8.6" font-weight="bold" fill="#333" text-anchor="start" >4.5</text><line x1="679.1" y1="223.12" x2="682.6" y2="223.12" stroke="#666" stroke-width="0.8"/><text x="686.00" y="226.32" font-family='"Liberation Sans", sans-serif' font-size="8.6" font-weight="bold" fill="#333" text-anchor="start" >4</text><line x1="679.1" y1="234.14" x2="682.6" y2="234.14" stroke="#666" stroke-width="0.8"/><text x="686.00" y="237.34" font-family='"Liberation Sans", sans-serif' font-size="8.6" font-weight="bold" fill="#333" text-anchor="start" >3.5</text><line x1="679.1" y1="245.16" x2="682.6" y2="245.16" stroke="#666" stroke-width="0.8"/><text x="686.00" y="248.36" font-family='"Liberation Sans", sans-serif' font-size="8.6" font-weight="bold" fill="#333" text-anchor="start" >3</text><line x1="679.1" y1="256.18" x2="682.6" y2="256.18" stroke="#666" stroke-width="0.8"/><text x="686.00" y="259.38" font-family='"Liberation Sans", sans-serif' font-size="8.6" font-weight="bold" fill="#333" text-anchor="start" >2.5</text><line x1="679.1" y1="267.20" x2="682.6" y2="267.20" stroke="#666" stroke-width="0.8"/><text x="686.00" y="270.40" font-family='"Liberation Sans", sans-serif' font-size="8.6" font-weight="bold" fill="#333" text-anchor="start" >2</text><line x1="679.1" y1="278.22" x2="682.6" y2="278.22" stroke="#666" stroke-width="0.8"/><text x="686.00" y="281.42" font-family='"Liberation Sans", sans-serif' font-size="8.6" font-weight="bold" fill="#333" text-anchor="start" >1.5</text></svg></body></html>
